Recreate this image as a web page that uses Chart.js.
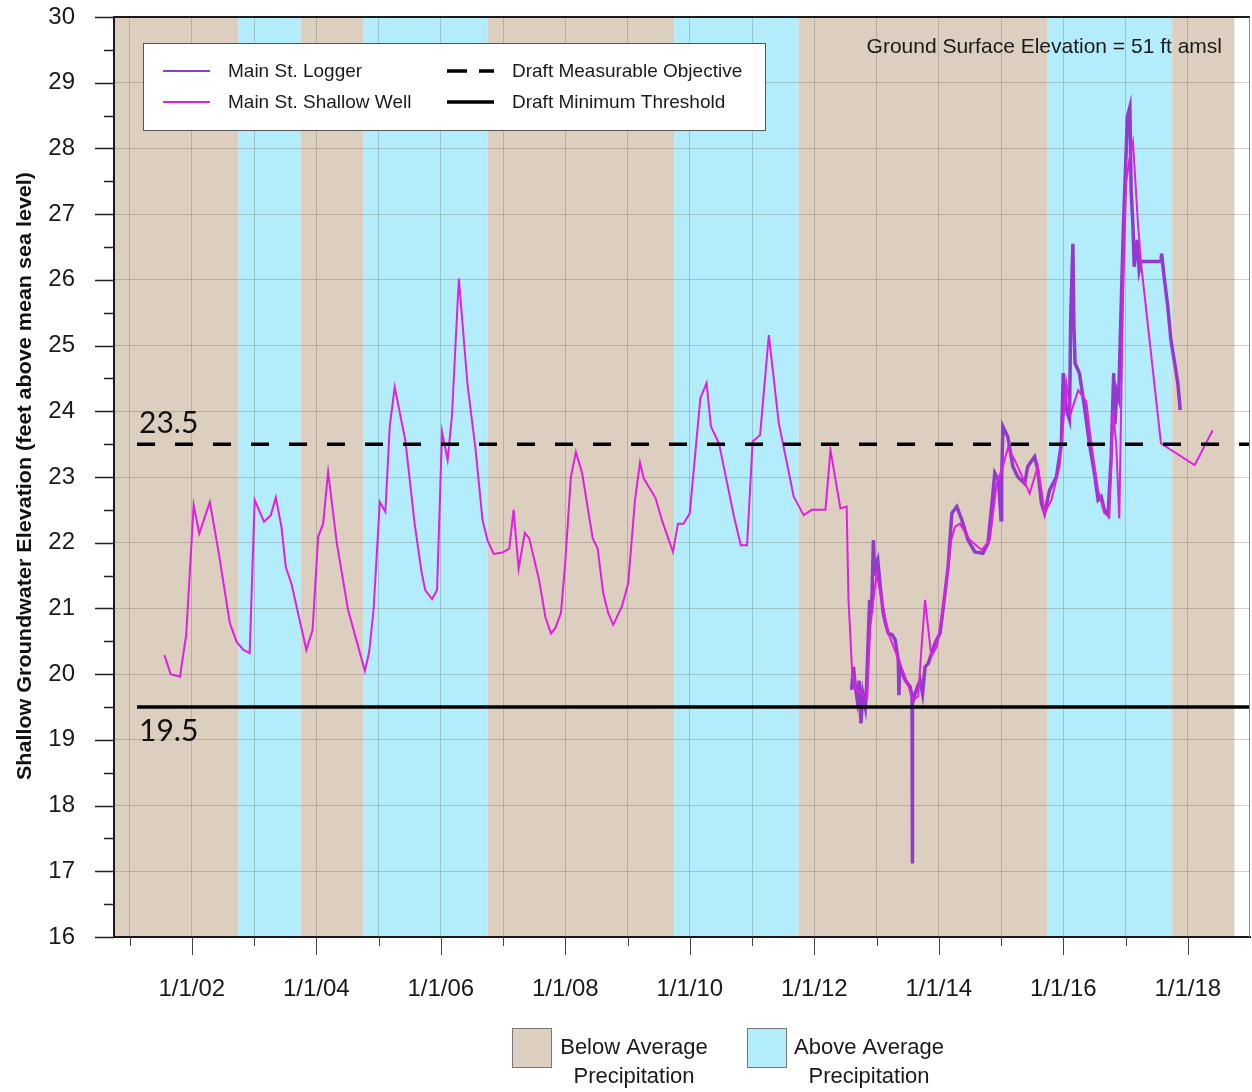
<!DOCTYPE html>
<html>
<head>
<meta charset="utf-8">
<script src="https://cdn.jsdelivr.net/npm/chart.js@4.4.1/dist/chart.umd.min.js"></script>
<style>
  html, body { margin: 0; padding: 0; background: #fff; }
  #wrap { width: 1252px; height: 1092px; }
</style>
</head>
<body>
<div id="wrap"><canvas id="myChart" width="1252" height="1092"></canvas></div>
<script>
// Main St. shallow well - manual measurements (decimal year, ft amsl)
const wellYears = [
  2001.56, 2001.66, 2001.81, 2001.91, 2002.03, 2002.12, 2002.29, 2002.43, 2002.61, 2002.72,
  2002.83, 2002.93, 2003.01, 2003.16, 2003.27, 2003.35, 2003.44, 2003.51, 2003.60, 2003.84,
  2003.94, 2004.03, 2004.11, 2004.19, 2004.33, 2004.51, 2004.78, 2004.85, 2004.92, 2005.02,
  2005.11, 2005.18, 2005.26, 2005.37, 2005.43, 2005.58, 2005.69, 2005.75, 2005.86, 2005.94,
  2006.02, 2006.11, 2006.18, 2006.29, 2006.43, 2006.56, 2006.67, 2006.75, 2006.85, 2006.99,
  2007.10, 2007.17, 2007.25, 2007.35, 2007.42, 2007.58, 2007.68, 2007.77, 2007.84, 2007.93,
  2008.00, 2008.09, 2008.17, 2008.27, 2008.44, 2008.52, 2008.61, 2008.69, 2008.77, 2008.91,
  2009.01, 2009.12, 2009.20, 2009.26, 2009.45, 2009.56, 2009.73, 2009.81, 2009.90, 2010.00,
  2010.17, 2010.27, 2010.34, 2010.47, 2010.71, 2010.82, 2010.92, 2011.01, 2011.13, 2011.27,
  2011.43, 2011.67, 2011.83, 2011.96, 2012.18, 2012.26, 2012.42, 2012.52, 2012.55, 2012.61,
  2012.68, 2012.85, 2012.90, 2013.00, 2013.19, 2013.40, 2013.59, 2013.67, 2013.72, 2013.78,
  2013.88, 2013.97, 2014.10, 2014.20, 2014.26, 2014.34, 2014.50, 2014.69, 2014.82, 2014.93,
  2015.03, 2015.11, 2015.22, 2015.46, 2015.59, 2015.65, 2015.70, 2015.81, 2015.94, 2016.00,
  2016.05, 2016.12, 2016.24, 2016.37, 2016.45, 2016.56, 2016.66, 2016.74, 2016.80, 2016.85,
  2016.90, 2016.96, 2017.01, 2017.06, 2017.12, 2017.20, 2017.25, 2017.57, 2018.11, 2018.40
];
const wellLevels = [
  20.29, 20.00, 19.96, 20.60, 22.57, 22.14, 22.62, 21.86, 20.78, 20.49,
  20.37, 20.32, 22.65, 22.32, 22.42, 22.69, 22.24, 21.63, 21.38, 20.37,
  20.67, 22.09, 22.29, 23.08, 21.99, 20.98, 20.05, 20.34, 20.98, 22.62,
  22.47, 23.77, 24.37, 23.84, 23.56, 22.29, 21.56, 21.28, 21.14, 21.28,
  23.69, 23.26, 23.94, 26.02, 24.40, 23.41, 22.35, 22.04, 21.83, 21.85,
  21.91, 22.50, 21.60, 22.15, 22.07, 21.43, 20.87, 20.62, 20.70, 20.93,
  21.71, 23.00, 23.38, 23.06, 22.07, 21.91, 21.23, 20.93, 20.75, 21.03,
  21.38, 22.65, 23.22, 22.98, 22.68, 22.32, 21.86, 22.29, 22.29, 22.45,
  24.20, 24.43, 23.77, 23.51, 22.40, 21.96, 21.96, 23.54, 23.64, 25.16,
  23.82, 22.70, 22.42, 22.50, 22.50, 23.41, 22.52, 22.55, 21.13, 20.01,
  19.76, 19.63, 20.72, 21.53, 20.62, 20.11, 19.61, 19.66, 20.37, 21.13,
  20.27, 20.42, 21.23, 22.04, 22.24, 22.29, 22.04, 21.89, 22.04, 22.90,
  23.16, 23.44, 23.26, 22.75, 23.16, 22.80, 22.45, 22.65, 23.16, 23.82,
  24.43, 23.97, 24.32, 24.15, 23.51, 22.80, 22.45, 22.40, 24.02, 23.51,
  22.37, 25.74, 27.47, 27.82, 28.10, 26.86, 26.25, 23.51, 23.18, 23.71
];

// Main St. transducer logger
const loggerYears = [
  2012.60, 2012.63, 2012.66, 2012.69, 2012.72, 2012.75, 2012.78, 2012.82, 2012.84, 2012.87,
  2012.89, 2012.92, 2012.95, 2012.97, 2012.98, 2013.02, 2013.06, 2013.11, 2013.15, 2013.19,
  2013.25, 2013.30, 2013.35, 2013.36, 2013.37, 2013.46, 2013.54, 2013.57, 2013.575, 2013.58,
  2013.62, 2013.70, 2013.74, 2013.78, 2013.83, 2013.94, 2014.02, 2014.10, 2014.15, 2014.21,
  2014.29, 2014.37, 2014.47, 2014.58, 2014.71, 2014.79, 2014.86, 2014.90, 2014.96, 2015.00,
  2015.01, 2015.03, 2015.11, 2015.19, 2015.27, 2015.38, 2015.43, 2015.54, 2015.59, 2015.65,
  2015.70, 2015.78, 2015.89, 2015.97, 2016.00, 2016.05, 2016.10, 2016.12, 2016.155, 2016.17,
  2016.19, 2016.26, 2016.34, 2016.42, 2016.50, 2016.56, 2016.61, 2016.66, 2016.72, 2016.77,
  2016.81, 2016.83, 2016.86, 2016.89, 2016.96, 2016.98, 2017.03, 2017.07, 2017.09, 2017.12,
  2017.14, 2017.19, 2017.22, 2017.25, 2017.57, 2017.58, 2017.62, 2017.68, 2017.73, 2017.79,
  2017.84, 2017.88
];
const loggerLevels = [
  19.76, 20.11, 19.80, 19.61, 19.90, 19.25, 19.70, 19.50, 19.81, 20.62,
  21.13, 20.92, 22.04, 21.50, 21.63, 21.74, 21.33, 20.92, 20.75, 20.62,
  20.60, 20.52, 20.21, 19.68, 20.11, 19.91, 19.81, 19.66, 17.12, 19.55,
  19.71, 19.91, 19.70, 20.11, 20.16, 20.47, 20.62, 21.23, 21.63, 22.45,
  22.55, 22.35, 22.04, 21.86, 21.84, 21.99, 22.65, 23.06, 22.95, 22.35,
  22.95, 23.77, 23.61, 23.16, 23.00, 22.90, 23.16, 23.31, 23.11, 22.60,
  22.45, 22.80, 23.00, 23.51, 24.58, 24.02, 23.87, 25.44, 26.55, 25.34,
  24.73, 24.58, 24.07, 23.51, 23.06, 22.65, 22.70, 22.50, 22.42, 23.31,
  24.58, 23.80, 24.30, 24.20, 26.61, 27.16, 28.48, 28.63, 27.37, 26.81,
  26.20, 26.61, 26.15, 26.28, 26.28, 26.40, 26.05, 25.59, 25.08, 24.73,
  24.43, 24.02
];

// Draft sustainability thresholds
const objectiveLevel = 23.5;
const thresholdLevel = 19.5;
const thresholdSpan = [2001.12, 2019.0];

// Water-year precipitation classes (Oct 1 boundaries)
const bandEdges = [2000.75, 2002.75, 2003.75, 2004.75, 2006.75, 2009.75, 2011.75, 2015.75, 2017.75, 2018.75];
const bandKinds = ['below', 'above', 'below', 'above', 'below', 'above', 'below', 'above', 'below'];

const xTickYears = [2001, 2002, 2003, 2004, 2005, 2006, 2007, 2008, 2009, 2010, 2011, 2012, 2013, 2014, 2015, 2016, 2017, 2018];
const yTickValues = [16, 17, 18, 19, 20, 21, 22, 23, 24, 25, 26, 27, 28, 29, 30];

const COLORS = {
  below: 'rgb(221, 207, 192)',
  above: 'rgb(179, 237, 251)',
  logger: 'rgb(146, 58, 204)',
  well: 'rgb(226, 30, 226)',
  grid: 'rgba(95, 85, 80, 0.28)'
};
const FONT = "'Liberation Sans', Arial, sans-serif";

const toPoints = (xs, ys) => xs.map((x, i) => ({ x: x, y: ys[i] }));

const bandsPlugin = {
  id: 'bands',
  beforeDraw(chart) {
    const { ctx, chartArea: a, scales: { x } } = chart;
    ctx.save();
    for (let i = 0; i < bandKinds.length; i++) {
      const x0 = x.getPixelForValue(bandEdges[i]);
      const x1 = x.getPixelForValue(bandEdges[i + 1]);
      ctx.fillStyle = COLORS[bandKinds[i]];
      ctx.fillRect(x0, a.top, x1 - x0, a.bottom - a.top);
    }
    ctx.restore();
  }
};

const decorPlugin = {
  id: 'decor',
  afterDraw(chart) {
    const { ctx, chartArea: a, scales: { x, y } } = chart;
    ctx.save();

    // frame
    ctx.strokeStyle = '#1a1a1a';
    ctx.lineWidth = 2;
    ctx.beginPath();
    ctx.moveTo(a.left, a.bottom);
    ctx.lineTo(a.left, a.top);
    ctx.lineTo(a.right, a.top);
    ctx.stroke();
    ctx.strokeStyle = '#888';
    ctx.lineWidth = 1;
    ctx.beginPath();
    ctx.moveTo(a.right - 0.5, a.top);
    ctx.lineTo(a.right - 0.5, a.bottom);
    ctx.stroke();

    // tick marks
    ctx.strokeStyle = '#222';
    ctx.lineWidth = 1.5;
    ctx.beginPath();
    yTickValues.forEach(v => {
      let py = Math.round(y.getPixelForValue(v)) + 0.5;
      ctx.moveTo(a.left - 19, py); ctx.lineTo(a.left, py);
      if (v < 30) {
        py = Math.round(y.getPixelForValue(v + 0.5)) + 0.5;
        ctx.moveTo(a.left - 10, py); ctx.lineTo(a.left, py);
      }
    });
    ctx.stroke();
    ctx.lineWidth = 1;
    ctx.strokeStyle = '#444';
    ctx.beginPath();
    xTickYears.forEach(v => {
      const px = Math.round(x.getPixelForValue(v)) + 0.5;
      ctx.moveTo(px, a.bottom);
      ctx.lineTo(px, a.bottom + (v % 2 === 0 ? 18 : 9));
    });
    ctx.stroke();

    // threshold labels
    ctx.fillStyle = '#111';
    ctx.font = "30px Lato, 'Open Sans', sans-serif";
    ctx.textAlign = 'left';
    ctx.textBaseline = 'alphabetic';
    ctx.fillText('23.5', 139, y.getPixelForValue(objectiveLevel) - 11);
    ctx.fillText('19.5', 139, y.getPixelForValue(thresholdLevel) + 34);

    // note in the corner
    ctx.font = '21px ' + FONT;
    ctx.textAlign = 'right';
    ctx.fillStyle = '#1a1a1a';
    ctx.fillText('Ground Surface Elevation = 51 ft amsl', 1222, 53);

    // y axis title, squeezed a little
    const title = 'Shallow Groundwater Elevation (feet above mean sea level)';
    ctx.font = 'bold 21px ' + FONT;
    const w = ctx.measureText(title).width;
    ctx.translate(31, 476);
    ctx.rotate(-Math.PI / 2);
    ctx.scale(608 / w, 1);
    ctx.textAlign = 'center';
    ctx.fillStyle = '#111';
    ctx.fillText(title, 0, 0);
    ctx.setTransform(1, 0, 0, 1, 0, 0);

    // series legend
    ctx.fillStyle = '#fff';
    ctx.fillRect(143, 43, 622, 87);
    ctx.strokeStyle = '#555';
    ctx.lineWidth = 1;
    ctx.strokeRect(143.5, 43.5, 622, 87);
    const rows = [
      { x: 163, y: 71, color: COLORS.logger, w: 2, dash: [], text: 'Main St. Logger' },
      { x: 163, y: 102, color: COLORS.well, w: 2, dash: [], text: 'Main St. Shallow Well' },
      { x: 447, y: 71, color: '#000', w: 3.5, dash: [20, 12], text: 'Draft Measurable Objective' },
      { x: 447, y: 102, color: '#000', w: 3.5, dash: [], text: 'Draft Minimum Threshold' }
    ];
    ctx.font = '19px ' + FONT;
    ctx.textAlign = 'left';
    ctx.textBaseline = 'middle';
    rows.forEach(r => {
      ctx.strokeStyle = r.color;
      ctx.lineWidth = r.w;
      ctx.setLineDash(r.dash);
      ctx.beginPath();
      ctx.moveTo(r.x, r.y); ctx.lineTo(r.x + 47, r.y);
      ctx.stroke();
      ctx.setLineDash([]);
      ctx.fillStyle = '#1a1a1a';
      ctx.fillText(r.text, r.x + 65, r.y + 1);
    });

    // precipitation legend
    const keys = [
      { x: 512, color: COLORS.below, lines: ['Below Average', 'Precipitation'] },
      { x: 747, color: COLORS.above, lines: ['Above Average', 'Precipitation'] }
    ];
    ctx.font = '22px ' + FONT;
    ctx.textAlign = 'center';
    keys.forEach(k => {
      ctx.fillStyle = k.color;
      ctx.fillRect(k.x, 1028, 39, 39);
      ctx.strokeStyle = '#777';
      ctx.lineWidth = 1;
      ctx.strokeRect(k.x + 0.5, 1028.5, 39, 39);
      ctx.fillStyle = '#1a1a1a';
      ctx.fillText(k.lines[0], k.x + 122, 1048);
      ctx.fillText(k.lines[1], k.x + 122, 1077);
    });
    ctx.restore();
  }
};

const ctx = document.getElementById('myChart').getContext('2d');

const myChart = new Chart(ctx, {
  type: 'line',
  data: {
    datasets: [
      {
        label: 'Draft Measurable Objective',
        data: toPoints(thresholdSpan, [objectiveLevel, objectiveLevel]),
        borderColor: '#000', borderWidth: 3.5, borderDash: [18, 20],
        pointRadius: 0
      },
      {
        label: 'Draft Minimum Threshold',
        data: toPoints(thresholdSpan, [thresholdLevel, thresholdLevel]),
        borderColor: '#000', borderWidth: 3.5,
        pointRadius: 0
      },
      {
        label: 'Main St. Shallow Well',
        data: toPoints(wellYears, wellLevels),
        borderColor: COLORS.well, borderWidth: 2,
        pointRadius: 0, tension: 0
      },
      {
        // the logger record is dense, so it reads as a heavier line
        label: 'Main St. Logger',
        data: toPoints(loggerYears, loggerLevels),
        borderColor: COLORS.logger, borderWidth: 3.5,
        pointRadius: 0, tension: 0
      }
    ]
  },
  options: {
    responsive: false,
    animation: false,
    devicePixelRatio: 1,
    layout: { padding: { top: 17, right: 2, left: 0, bottom: 0 } },
    plugins: { legend: { display: false }, tooltip: { enabled: false } },
    scales: {
      x: {
        type: 'linear',
        min: 2000.75,
        max: 2019.0,
        afterBuildTicks: s => { s.ticks = xTickYears.map(v => ({ value: v })); },
        afterFit: s => { s.height = 155; s.paddingLeft = 0; s.paddingRight = 0; },
        ticks: {
          autoSkip: false, maxRotation: 0, padding: 38,
          color: '#1a1a1a',
          font: { family: FONT, size: 24 },
          callback: v => (v % 2 === 0 ? '1/1/' + String(v).slice(2) : '')
        },
        grid: { color: COLORS.grid, drawTicks: false },
        border: { color: '#1a1a1a', width: 2 }
      },
      y: {
        min: 16,
        max: 30,
        afterBuildTicks: s => { s.ticks = yTickValues.map(v => ({ value: v })); },
        // keep the label padding from pushing the plot area down
        afterFit: s => { s.width = 114; s.paddingTop = 0; s.paddingBottom = 0; },
        ticks: {
          padding: 39,
          color: '#1a1a1a',
          font: { family: FONT, size: 24 }
        },
        grid: { color: COLORS.grid, drawTicks: false },
        border: { color: '#1a1a1a', width: 2 }
      }
    }
  },
  plugins: [bandsPlugin, decorPlugin]
});
</script>
</body>
</html>
